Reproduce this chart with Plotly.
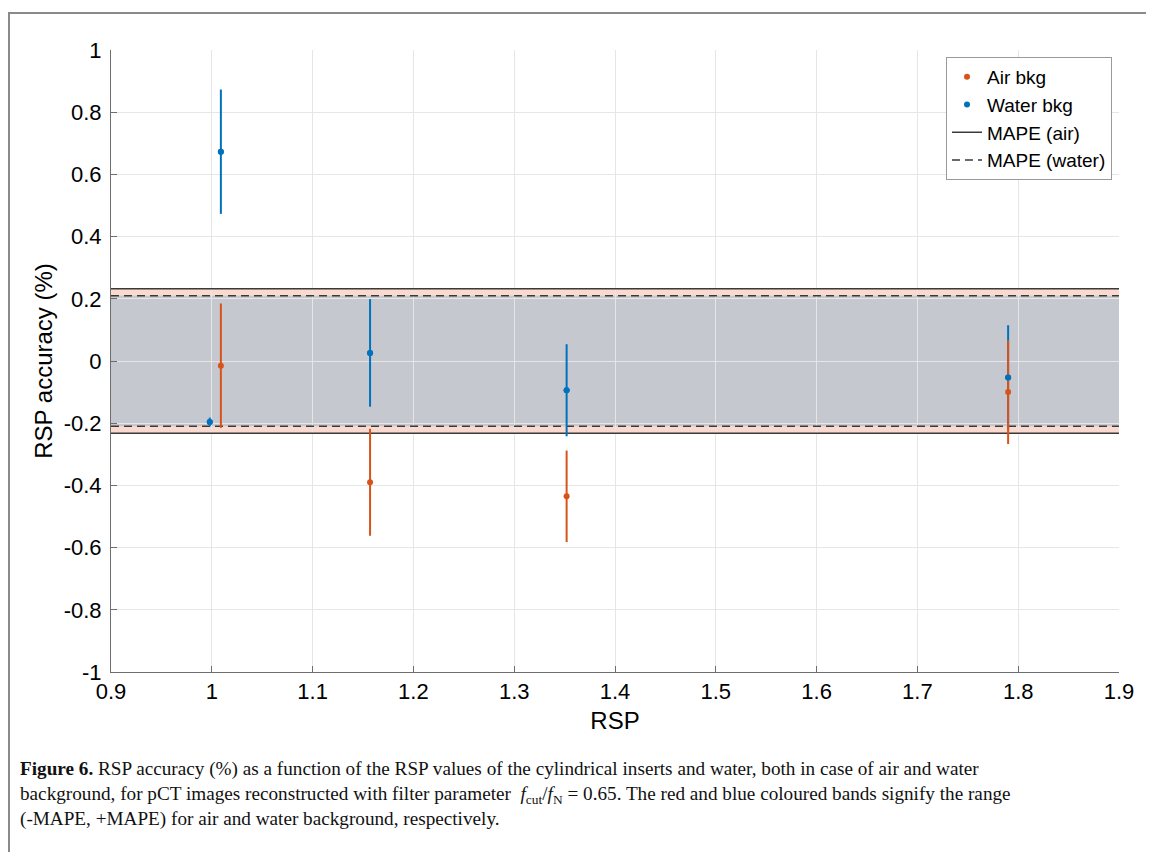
import plotly.graph_objects as go

# ---- data ----
air_rsp = [1.009, 1.157, 1.352, 1.790]
air_acc = [-0.015, -0.390, -0.435, -0.100]
air_err = [0.200, 0.172, 0.147, 0.167]

water_rsp = [0.998, 1.009, 1.157, 1.352, 1.790]
water_acc = [-0.196, 0.673, 0.026, -0.094, -0.053]
water_err = [0.014, 0.200, 0.173, 0.148, 0.168]

mape_air = 0.232
mape_water = 0.210

x_ticks = [0.9, 1.0, 1.1, 1.2, 1.3, 1.4, 1.5, 1.6, 1.7, 1.8, 1.9]
x_ticktext = ["0.9", "1", "1.1", "1.2", "1.3", "1.4", "1.5", "1.6", "1.7", "1.8", "1.9"]
y_ticks = [-1, -0.8, -0.6, -0.4, -0.2, 0, 0.2, 0.4, 0.6, 0.8, 1]
y_ticktext = ["-1", "-0.8", "-0.6", "-0.4", "-0.2", "0", "0.2", "0.4", "0.6", "0.8", "1"]
x_range = [0.9, 1.9]
y_range = [-1, 1]

ORANGE = "#D95319"
BLUE = "#0072BD"
FONT = "Liberation Sans, Arial, sans-serif"
EDGE = "#3a3a3a"

fig = go.Figure()

# MAPE lines
fig.add_trace(go.Scatter(x=x_range, y=[mape_air, mape_air], mode="lines",
                         line=dict(color=EDGE, width=1.5), name="MAPE (air)",
                         legendrank=3))
fig.add_trace(go.Scatter(x=x_range, y=[-mape_air, -mape_air], mode="lines",
                         line=dict(color=EDGE, width=1.5), showlegend=False))
fig.add_trace(go.Scatter(x=x_range, y=[mape_water, mape_water], mode="lines",
                         line=dict(color=EDGE, width=1.5, dash="8px,5px"),
                         name="MAPE (water)", legendrank=4))
fig.add_trace(go.Scatter(x=x_range, y=[-mape_water, -mape_water], mode="lines",
                         line=dict(color=EDGE, width=1.5, dash="8px,5px"), showlegend=False))

# data points (water first so air error bars sit on top)
fig.add_trace(go.Scatter(x=water_rsp, y=water_acc, mode="markers", name="Water bkg",
                         marker=dict(color=BLUE, size=6),
                         error_y=dict(type="data", array=water_err, color=BLUE,
                                      thickness=2, width=0),
                         legendrank=2))
fig.add_trace(go.Scatter(x=air_rsp, y=air_acc, mode="markers", name="Air bkg",
                         marker=dict(color=ORANGE, size=6),
                         error_y=dict(type="data", array=air_err, color=ORANGE,
                                      thickness=2, width=0),
                         legendrank=1))
fig.add_trace(go.Scatter(x=water_rsp, y=water_acc, mode="markers", showlegend=False,
                         marker=dict(color=BLUE, size=6), hoverinfo="skip"))

shapes = [
    # air band
    dict(type="rect", xref="x", yref="y", x0=x_range[0], x1=x_range[1],
         y0=-mape_air, y1=mape_air, fillcolor="rgb(250,218,206)",
         line=dict(width=0), layer="below"),
    # water band
    dict(type="rect", xref="x", yref="y", x0=x_range[0], x1=x_range[1],
         y0=-mape_water, y1=mape_water, fillcolor="rgb(198,200,207)",
         line=dict(width=0), layer="below"),
    # outer figure frame
    dict(type="rect", xref="paper", yref="paper",
         x0=(9 - 111) / 1008, x1=(1175 - 111) / 1008,
         y0=(672 - 880) / 622, y1=(672 - 13) / 622,
         line=dict(color="#8a8a8a", width=2), fillcolor="rgba(0,0,0,0)"),
]

caption = (
    "<b>Figure 6.</b> RSP accuracy (%) as a function of the RSP values of the cylindrical inserts and water, both in case of air and water<br>"
    "background, for pCT images reconstructed with filter parameter  <i>f</i><sub>cut</sub>/<i>f</i><sub>N</sub> = 0.65. "
    "The red and blue coloured bands signify the range<br>"
    "(-MAPE, +MAPE) for air and water background, respectively."
)

fig.update_layout(
    width=1154, height=852,
    margin=dict(l=103, r=43, t=42, b=188),
    paper_bgcolor="white",
    plot_bgcolor="white",
    font=dict(family=FONT, color="black"),
    shapes=shapes,
    showlegend=True,
    legend=dict(x=(1112 - 111) / 1008, y=(672 - 57) / 622, xanchor="right", yanchor="top",
                bgcolor="white", bordercolor="#9a9a9a", borderwidth=1,
                font=dict(size=19, family=FONT), tracegroupgap=0,
                itemwidth=30),
    annotations=[dict(text=caption, xref="paper", yref="paper",
                      x=(18 - 111) / 1008, y=(672 - 756) / 622,
                      xanchor="left", yanchor="top", align="left", showarrow=False,
                      font=dict(family="Liberation Serif, Times New Roman, serif",
                                size=19.2, color="#111111"))],
)

fig.update_xaxes(range=x_range, tickvals=x_ticks, ticktext=x_ticktext,
                 showgrid=True, gridcolor="#e6e6e6", gridwidth=1,
                 showline=True, linecolor="#6e6e6e", linewidth=1,
                 ticks="inside", ticklen=6, tickcolor="#6e6e6e",
                 tickfont=dict(size=22), zeroline=False,
                 title=dict(text="RSP", font=dict(size=24), standoff=8))
fig.update_yaxes(range=y_range, tickvals=y_ticks, ticktext=y_ticktext,
                 showgrid=True, gridcolor="#e6e6e6", gridwidth=1,
                 showline=True, linecolor="#6e6e6e", linewidth=1,
                 ticks="inside", ticklen=6, tickcolor="#6e6e6e",
                 tickfont=dict(size=22), zeroline=False, ticklabelstandoff=4,
                 title=dict(text="RSP accuracy (%)", font=dict(size=24), standoff=4))

fig.write_html("out.html")
